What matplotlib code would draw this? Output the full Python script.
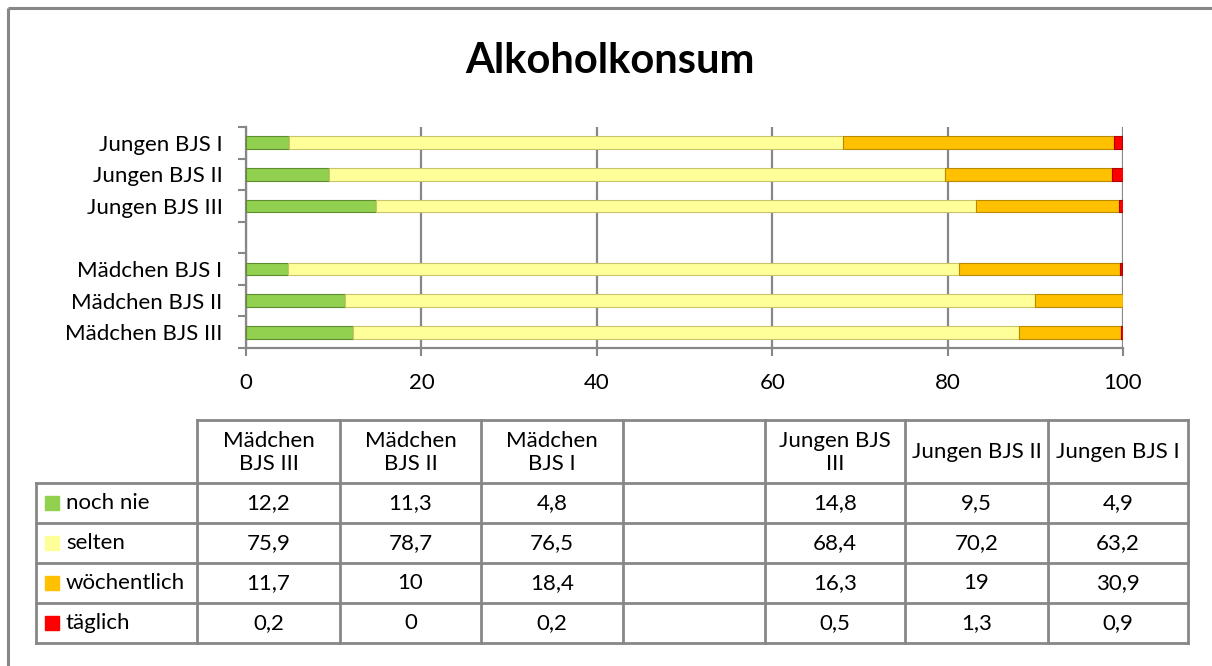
import matplotlib.pyplot as plt
import numpy as np

plt.rcParams['font.family'] = ['Lato', 'DejaVu Sans']

categories = ["Mädchen BJS III", "Mädchen BJS II", "Mädchen BJS I", "",
              "Jungen BJS III", "Jungen BJS II", "Jungen BJS I"]
table_headers = ["Mädchen\nBJS III", "Mädchen\nBJS II", "Mädchen\nBJS I", "",
                 "Jungen BJS\nIII", "Jungen BJS II", "Jungen BJS I"]
series = ["noch nie", "selten", "wöchentlich", "täglich"]
noch_nie = [12.2, 11.3, 4.8, np.nan, 14.8, 9.5, 4.9]
selten = [75.9, 78.7, 76.5, np.nan, 68.4, 70.2, 63.2]
woechentlich = [11.7, 10, 18.4, np.nan, 16.3, 19, 30.9]
taeglich = [0.2, 0, 0.2, np.nan, 0.5, 1.3, 0.9]
values = [noch_nie, selten, woechentlich, taeglich]
colors = ["#92D050", "#FFFF99", "#FFC000", "#FF0000"]
edges = ["#5E8C2E", "#C9C46A", "#B98A00", "#B00000"]

grey = "#878787"
fs = 16
W, H = 1212, 666
fig = plt.figure(figsize=(W / 100, H / 100), dpi=100)

# background layer for border + table (pixel coordinates)
tab = fig.add_axes([0, 0, 1, 1])
tab.set_xlim(0, W)
tab.set_ylim(H, 0)
tab.axis('off')
tab.patch.set_visible(False)
tab.plot([8, W], [8, 8], color=grey, lw=2.2, solid_capstyle='butt')
tab.plot([8, 8], [8, H], color=grey, lw=2.2, solid_capstyle='butt')

fig.text(0.503, 1 - 61 / H, "Alkoholkonsum", ha='center', va='center',
         fontsize=30, fontweight='bold')

# bar chart
ax = fig.add_axes([246 / W, 1 - 348 / H, (1123 - 246) / W, (348 - 127) / H])
y = np.arange(len(categories))
left = np.zeros(len(categories))
for vals, c, ec, name in zip(values, colors, edges, series):
    v = np.array(vals, dtype=float)
    ax.barh(y, v, left=left, height=0.4, color=c, edgecolor=ec, linewidth=0.8,
            label=name, zorder=3)
    left = left + np.nan_to_num(v)

ax.set_xlim(0, 100)
ax.set_ylim(-0.5, len(categories) - 0.5)
ax.set_xticks(np.arange(0, 101, 20))
ax.set_yticks(y)
ax.set_yticklabels(categories)
ax.set_yticks(np.arange(-0.5, len(categories), 1), minor=True)
ax.tick_params(axis='y', which='major', length=0, pad=17, labelsize=fs)
ax.tick_params(axis='y', which='minor', length=6, width=1.5, color=grey)
ax.tick_params(axis='x', length=6, width=1.5, color=grey, pad=12, labelsize=fs)
ax.grid(axis='x', color=grey, lw=1.6, zorder=0)
for s in ['top', 'right']:
    ax.spines[s].set_visible(False)
for s in ['left', 'bottom']:
    ax.spines[s].set_color(grey)
    ax.spines[s].set_linewidth(1.6)

# data table
col_x = [36, 197, 340, 481, 623, 765, 905, 1048, 1188]
row_y = [420, 483, 523, 563, 603, 643]
lw = 2
tab.plot([col_x[1], col_x[-1]], [row_y[0]] * 2, color=grey, lw=lw)
for yy in row_y[1:]:
    tab.plot([col_x[0], col_x[-1]], [yy] * 2, color=grey, lw=lw)
tab.plot([col_x[0]] * 2, [row_y[1], row_y[-1]], color=grey, lw=lw)
for xx in col_x[1:]:
    tab.plot([xx] * 2, [row_y[0], row_y[-1]], color=grey, lw=lw)

for j, head in enumerate(table_headers):
    cx = (col_x[j + 1] + col_x[j + 2]) / 2
    tab.text(cx, (row_y[0] + row_y[1]) / 2 + 1, head, ha='center', va='center',
             fontsize=fs, linespacing=1.15)

for i, (name, vals, c) in enumerate(zip(series, values, colors)):
    cy = (row_y[i + 1] + row_y[i + 2]) / 2
    tab.add_patch(plt.Rectangle((45, cy - 7), 14, 14, color=c))
    tab.text(66, cy, name, ha='left', va='center', fontsize=fs)
    for j, v in enumerate(vals):
        if np.isnan(v):
            continue
        cx = (col_x[j + 1] + col_x[j + 2]) / 2
        tab.text(cx, cy, f"{v:g}".replace(".", ","), ha='center', va='center',
                 fontsize=fs)

fig.savefig("out.png", dpi=100)
